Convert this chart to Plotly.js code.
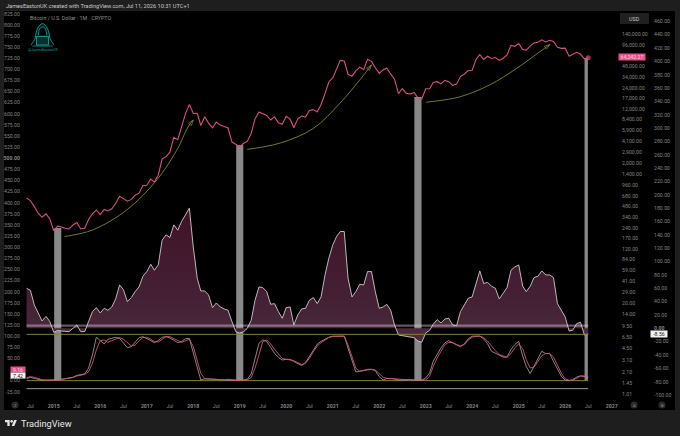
<!DOCTYPE html>
<html>
<head>
<meta charset="utf-8">
<script src="https://cdn.plot.ly/plotly-3.0.1.min.js"></script>
<style>
  html, body { margin: 0; padding: 0; background: #1e1e1e; }
  #chart { width: 680px; height: 436px; }
</style>
</head>
<body>
<div id="chart"></div>
<script>
// monthly closes, Jun 2014 to Jul 2026
const price = [
  640, 586, 480, 387, 338, 378, 320,
  217, 254, 244, 236, 230, 263, 284, 230, 236, 314, 377, 430,
  369, 437, 416, 448, 531, 673, 624, 575, 609, 700, 746, 963,
  970, 1190, 1080, 1348, 2300, 2480, 2875, 4703, 4338, 6468, 10233, 13860,
  10265, 10326, 6923, 9240, 7494, 6390, 7730, 7011, 6626, 6371, 4017, 3742,
  3457, 3854, 4105, 5350, 8574, 10817, 10085, 9630, 8293, 9199, 7569, 7193,
  9350, 8523, 6424, 8629, 9454, 9137, 11323, 11655, 10779, 13804, 19700, 28949,
  33114, 45137, 58918, 57750, 37332, 35040, 41626, 47100, 43790, 61318, 57005, 46306,
  38483, 43193, 45538, 37714, 31792, 19784, 23336, 20049, 19431, 20495, 17168, 16547,
  23139, 23147, 28478, 29268, 27219, 30477, 29230, 25940, 26962, 34639, 37724, 42265,
  42580, 61130, 71333, 60636, 67491, 62678, 64619, 58969, 63327, 70292, 96449, 93429,
  102400, 84350, 82550, 94200, 104640, 107170, 115760, 108250, 114050, 109600, 90400, 87500,
  88000, 67500, 71000, 77000, 72000, 62000, 64242.27
];

// oscillator on the far right scale
const oscillator = [
  60, 57, 35, 23, 11, 18, 10,
  -6, -3, -4, -5, -5, 0, 5, -5, -5, 10, 25, 31,
  23, 30, 27, 32, 44, 65, 58, 40, 46, 55, 62, 78,
  85, 96, 87, 95, 132, 140, 136, 155, 147, 160, 170, 180,
  122, 75, 56, 56, 50, 31, 38, 32, 29, 27, 10, -5,
  -7, -5, 0, 12, 42, 62, 61, 55, 36, 37, 25, 15,
  31, 32, 5, 20, 29, 30, 42, 46, 37, 47, 80, 105,
  125, 138, 145, 145, 75, 47, 55, 66, 65, 85, 85, 55,
  30, 32, 36, 27, 5, -10, -11, -12, -13, -14, -19, -21,
  -7, -3, 6, 13, 8, 14, 15, 5, 4, 25, 35, 45,
  47, 68, 86, 67, 69, 63, 60, 44, 52, 61, 87, 92,
  95, 63, 55, 63, 76, 78, 86, 80, 80, 76, 37, 28,
  17, -4, -3, 7, 9, -10, -8.56
];
const oscillatorBase = oscillator.map(() => 0);

// stochastic pair on the left scale
const stochK = [
  4.5, 7.5, 5, 3, 1, 1, 1,
  1.5, 2, 3, 4.5, 6, 7.5, 12, 13.5, 15, 28, 58, 97.5,
  90, 82.5, 93, 94.5, 97.5, 95, 84, 74, 76.5, 85.5, 96.5, 99,
  95, 90, 85.5, 90, 97.5, 99, 96, 90, 85.5, 88, 94.5, 95,
  61.5, 28, 1.5, 4, 4, 3, 3, 2, 1.5, 1.5, 1, 0,
  1, 1, 3, 15, 46.5, 84, 91.5, 88, 75, 61.5, 52.5, 46.5,
  48, 48, 43, 37.5, 34, 40.5, 54, 69, 82, 88.5, 93, 97.5,
  100, 100, 100, 100, 73, 46.5, 19.5, 21, 23, 25.5, 25.5, 22.5,
  9, 1.5, 5, 4.5, 4, 1.5, 1, 1.5, 2, 2, 1, 1,
  6, 17, 43.5, 58.5, 73.5, 85, 90, 85, 81, 76, 83, 94,
  100, 100, 100, 94, 83, 66, 62, 56, 53, 53, 70, 81,
  88.5, 55, 32, 16, 32, 51, 66, 61, 61, 43.5, 25, 10,
  1, 0, 2, 8, 11, 9, 7.42
];
const stochD = [
  7, 9, 7.5, 4.5, 2, 1, 1,
  1, 1.5, 3, 4, 5, 7, 10.5, 13, 14, 20, 39, 69,
  90, 91.5, 86, 90, 93, 97, 93, 85.5, 78, 80, 90, 97,
  97.5, 93, 88, 87, 93, 99, 99, 94.5, 89, 86, 90, 93,
  76.5, 46.5, 16.5, 4.5, 4, 4.5, 3, 2, 1.5, 3, 1.5, 1,
  1, 1, 1.5, 7, 28, 58, 88, 91.5, 82.5, 70.5, 60, 50,
  48, 46.5, 45, 40.5, 36, 39, 50, 65, 78, 85.5, 91.5, 97,
  99, 100, 100, 100, 80, 54, 28, 21, 22.5, 25.5, 25.5, 24,
  16.5, 7.5, 5, 4.5, 4, 2, 1.5, 1.5, 1.5, 1.5, 1.5, 1,
  1.5, 10, 32, 51, 67.5, 81, 86, 85.5, 81, 78, 81, 91,
  97.5, 100, 100, 97, 88.5, 77, 67.5, 58.5, 55, 52.5, 61, 73.5,
  83, 72, 47, 28.5, 30, 43.5, 56, 61, 61, 53, 36, 17,
  4, 1, 1, 6, 10, 10.5, 9.16
];

const months = price.map((_, i) => new Date(Date.UTC(2014, 5 + i, 1)).toISOString().slice(0, 10));

// grey cycle-low columns, left scale
const lowDates = ["2015-02-01", "2019-01-01", "2022-11-01", "2026-06-15"];
const lowTops = [343, 530, 638, 725];
const lowWidthDays = [56, 56, 56, 26];

// hand drawn arrows, left scale
const arc1Dates = ["2015-03-28", "2015-11-04", "2016-07-28", "2017-03-20", "2017-08-26", "2017-11-20", "2018-01-01"];
const arc1Values = [324, 339, 384, 451, 519, 570, 586];
const arc2Dates = ["2019-03-01", "2019-11-12", "2020-08-01", "2021-02-27", "2021-08-01", "2021-11-01"];
const arc2Values = [520, 534, 567, 624, 676, 710];
const arc3Dates = ["2023-01-04", "2023-09-25", "2024-05-18", "2024-12-15", "2025-06-18", "2025-09-04"];
const arc3Values = [626, 638, 665, 702, 740, 756];

const levelSpan = ["2014-06-01", "2026-07-01"];
const oscBandLevel = 4;
const oscFloorLevel = -9;
const stochFloorLevel = 0;
const stochGuideLevel = -18;

// 25.00 sits behind the two value tags in the reference
const leftTicks = [825, 800, 775, 750, 725, 700, 675, 650, 625, 600, 575, 550, 525, 500, 475, 450, 425, 400, 375, 350, 325, 300, 275, 250, 225, 200, 175, 150, 125, 100, 75, 50, 0, -25];
const priceTicks = [140000, 96000, 48000, 34000, 24000, 17000, 12000, 8400, 5900, 4100, 2900, 2000, 1400, 960, 680, 480, 340, 240, 170, 120, 84, 59, 41, 29, 20, 14, 9.5, 6.5, 4.5, 3.1, 2.1, 1.45, 1.01];
const rightTicks = [460, 440, 420, 400, 380, 360, 340, 320, 300, 280, 260, 240, 220, 200, 180, 160, 140, 120, 100, 80, 60, 40, 20, 0, -20, -40, -60, -80, -100];
const timeTicks = ["2014-07-01", "2015-01-01", "2015-07-01", "2016-01-01", "2016-07-01", "2017-01-01", "2017-07-01", "2018-01-01", "2018-07-01", "2019-01-01", "2019-07-01", "2020-01-01", "2020-07-01", "2021-01-01", "2021-07-01", "2022-01-01", "2022-07-01", "2023-01-01", "2023-07-01", "2024-01-01", "2024-07-01", "2025-01-01", "2025-07-01", "2026-01-01", "2026-07-01", "2027-01-01"];
const timeLabels = ["Jul", "2015", "Jul", "2016", "Jul", "2017", "Jul", "2018", "Jul", "2019", "Jul", "2020", "Jul", "2021", "Jul", "2022", "Jul", "2023", "Jul", "2024", "Jul", "2025", "Jul", "2026", "Jul", "2027"];

const W = 680, H = 436;
const px = (x) => x / W;
const py = (y) => 1 - y / H;
const money = (v) => v.toLocaleString("en-US", { minimumFractionDigits: 2, maximumFractionDigits: 2 });

const PINK = "#d94f7c";
const OLIVE = "#858338";
const FONT = "Roboto, sans-serif";
const TICK = "#858585";

function levelTrace(value, yaxis, color, width) {
  return {
    x: levelSpan, y: [value, value], yaxis: yaxis, mode: "lines", type: "scatter",
    line: { color: color, width: width }, hoverinfo: "skip",
  };
}

function arcTrace(dates, values) {
  return {
    x: dates, y: values, yaxis: "y", type: "scatter", mode: "lines+markers",
    line: { color: OLIVE, width: 0.9, shape: "spline" },
    marker: {
      symbol: "arrow-open", angleref: "previous", color: OLIVE,
      size: dates.map((_, i) => (i === dates.length - 1 ? 6 : 0)),
      line: { color: OLIVE, width: 1 },
    },
    hoverinfo: "skip",
  };
}

const data = [
  {
    type: "bar", x: lowDates, y: lowTops, yaxis: "y",
    width: lowWidthDays.map((d) => d * 86400000),
    marker: { color: "rgba(155,155,155,0.88)", line: { width: 0 } },
    hoverinfo: "skip",
  },
  levelTrace(stochFloorLevel, "y", OLIVE, 1),
  levelTrace(stochGuideLevel, "y", "#aaaaaa", 0.9),
  { x: months, y: stochK, yaxis: "y", type: "scatter", mode: "lines", line: { color: "#a8a8a8", width: 0.8 }, hoverinfo: "skip" },
  { x: months, y: stochD, yaxis: "y", type: "scatter", mode: "lines", line: { color: PINK, width: 0.9 }, hoverinfo: "skip" },
  arcTrace(arc1Dates, arc1Values),
  arcTrace(arc2Dates, arc2Values),
  arcTrace(arc3Dates, arc3Values),
  {
    x: months, y: price, yaxis: "y2", type: "scatter", mode: "lines+markers",
    line: { color: PINK, width: 1.1 },
    marker: { color: PINK, size: price.map((_, i) => (i === price.length - 1 ? 5 : 0)), line: { width: 0 } },
    hoverinfo: "skip",
  },
  { x: months, y: oscillatorBase, yaxis: "y3", type: "scatter", mode: "lines", line: { width: 0 }, hoverinfo: "skip" },
  {
    x: months, y: oscillator, yaxis: "y3", type: "scatter", mode: "lines",
    fill: "tonexty",
    fillgradient: { type: "vertical", colorscale: [[0, "#4a2c3d"], [0.3, "#452136"], [1, "#401226"]] },
    line: { color: "#d0c6cb", width: 0.9 },
    hoverinfo: "skip",
  },
  levelTrace(oscBandLevel, "y3", "rgba(232,210,220,0.42)", 2.4),
  levelTrace(oscFloorLevel, "y3", OLIVE, 1),
];

function yTicks(extra) {
  return Object.assign({
    showgrid: false, zeroline: false, showline: false,
    ticks: "outside", tickcolor: "rgba(0,0,0,0)", tickmode: "array",
    tickfont: { family: FONT, size: 5.2, color: TICK },
  }, extra);
}

function tag(x, y, text, bg, color, w, h) {
  return {
    xref: "paper", yref: "paper", x: px(x), y: py(y), text: text, showarrow: false,
    xanchor: "center", yanchor: "middle", bgcolor: bg, width: w, height: h, borderpad: 0,
    font: { family: FONT, size: 5.2, color: color },
  };
}

function label(x, y, text, size, color, anchor) {
  return {
    xref: "paper", yref: "paper", x: px(x), y: py(y), text: text, showarrow: false,
    xanchor: anchor || "left", yanchor: "middle", borderpad: 0,
    font: { family: FONT, size: size, color: color },
  };
}

function circle(x, y, r, color) {
  return {
    type: "circle", xref: "paper", yref: "paper", layer: "below",
    x0: px(x - r), x1: px(x + r), y0: py(y + r), y1: py(y - r),
    fillcolor: color, line: { width: 0 },
  };
}

const avatarSvg = `<svg xmlns="http://www.w3.org/2000/svg" viewBox="0 0 50 48"><g fill="none" stroke="#0f9c92" stroke-width="1.8"><path fill="#04211f" d="M10 32 C12 14 17 3 25 1 C33 3 38 14 40 32"/><path fill="#000" d="M17 24 C17 12 21 8 25 8 C29 8 33 12 33 24"/><path d="M10 32 L2 44 M40 32 L48 44"/><path d="M5 46 H45"/><rect x="13" y="27" width="24" height="17" fill="#06302e"/></g></svg>`;
const tvLogoSvg = `<svg xmlns="http://www.w3.org/2000/svg" viewBox="0 4 36 18"><path fill="#e6e6e6" d="M14 22H7V11H0V4h14v18zM28 22h-8l7.5-18h8L28 22z"/><circle fill="#e6e6e6" cx="20" cy="8" r="4"/></svg>`;
const svgUri = (s) => "data:image/svg+xml;charset=utf-8," + encodeURIComponent(s);

const layout = {
  width: W,
  height: H,
  margin: { l: 0, r: 0, t: 0, b: 0 },
  paper_bgcolor: "#1e1e1e",
  plot_bgcolor: "rgba(0,0,0,0)",
  showlegend: false,
  hovermode: false,
  barmode: "overlay",
  xaxis: {
    type: "date",
    domain: [px(24), px(617)],
    range: ["2014-05-12", "2027-02-12"],
    showgrid: false, zeroline: false, showline: false,
    tickmode: "array",
    tickvals: timeTicks,
    ticktext: timeLabels.map((t) => (t === "Jul" ? t : "<b>" + t + "</b>")),
    ticks: "outside", ticklen: 3, tickcolor: "rgba(0,0,0,0)",
    tickangle: 0,
    tickfont: { family: FONT, size: 5.2, color: TICK },
  },
  yaxis: yTicks({
    domain: [py(398), py(11)],
    range: [-39, 831.07],
    ticklen: 2,
    tickvals: leftTicks,
    ticktext: leftTicks.map((v) => (v === 500 ? "<b>500.00</b>" : v.toFixed(2))),
  }),
  yaxis2: yTicks({
    type: "log",
    overlaying: "y",
    side: "right",
    anchor: "x",
    range: [-0.0528, 5.4758],
    ticklen: 3,
    tickvals: priceTicks,
    ticktext: priceTicks.map(money),
  }),
  yaxis3: yTicks({
    overlaying: "y",
    side: "right",
    anchor: "free",
    position: px(651),
    range: [-104.4, 475.4],
    ticklen: 1,
    tickvals: rightTicks,
    ticktext: rightTicks.map((v) => (v === 0 ? "<b>0.00</b>" : v.toFixed(2))),
  }),
  shapes: [
    {
      type: "rect", xref: "paper", yref: "paper", layer: "below",
      x0: px(4), x1: px(675), y0: py(410), y1: py(11),
      fillcolor: "#000000", line: { width: 0 },
    },
    {
      type: "rect", xref: "paper", yref: "paper", layer: "below",
      x0: px(620), x1: px(649), y0: py(24), y1: py(13),
      fillcolor: "#202020", line: { width: 0 },
    },
    circle(15, 405, 3.5, "#2b2b2b"),
    circle(634, 405, 3.5, "#2b2b2b"),
    circle(662, 405, 3.5, "#2b2b2b"),
  ],
  images: [
    {
      source: svgUri(avatarSvg), xref: "paper", yref: "paper",
      x: px(30), y: py(23), sizex: 25 / W, sizey: 24 / H,
      xanchor: "left", yanchor: "top", sizing: "stretch", layer: "above",
    },
    {
      source: svgUri(tvLogoSvg), xref: "paper", yref: "paper",
      x: px(5), y: py(420), sizex: 12 / W, sizey: 6 / H,
      xanchor: "left", yanchor: "top", sizing: "stretch", layer: "above",
    },
  ],
  annotations: [
    label(4.5, 6.3, "JamesEastonUK created with TradingView.com, Jul 11, 2026 10:31 UTC+1", 5.6, "#c8c8c8"),
    label(29, 18, "Bitcoin / U.S. Dollar · 1M · CRYPTO", 5.3, "#8f8f8f"),
    label(42.5, 50, "@JamesEastonUK", 3.6, "#0f9c92", "center"),
    label(634, 18.5, "USD", 5.4, "#c8c8c8", "center"),
    label(20, 423, "TradingView", 9.2, "#e6e6e6"),
    label(15, 405, "Z", 4, "#8b8b8b", "center"),
    label(634, 405, "A", 4, "#8b8b8b", "center"),
    label(662, 405, "B", 4, "#8b8b8b", "center"),
    tag(632, 57, money(price[price.length - 1]), "#e8508a", "#f6d5e1", 26, 6),
    tag(18, 369.8, stochD[stochD.length - 1].toFixed(2), "#e8508a", "#f6d5e1", 14, 5),
    tag(18, 375.2, stochK[stochK.length - 1].toFixed(2), "#f2f2f2", "#222222", 14, 5),
    tag(659, 334.3, oscillator[oscillator.length - 1].toFixed(2), "#f2f2f2", "#222222", 16, 5.8),
  ],
};

Plotly.newPlot("chart", data, layout, { displayModeBar: false, staticPlot: true });
</script>
</body>
</html>
